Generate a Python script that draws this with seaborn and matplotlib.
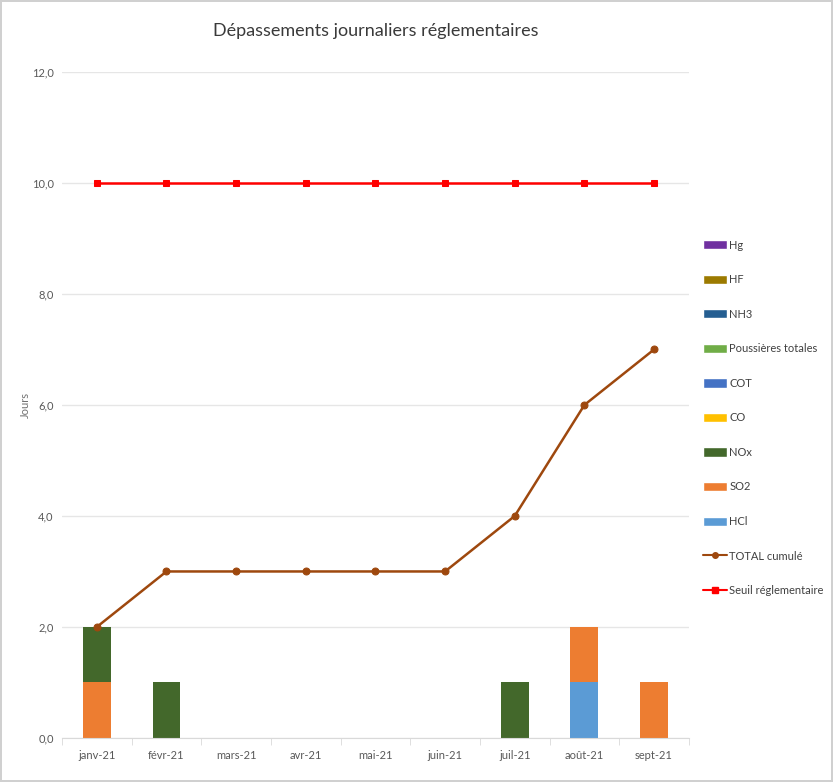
import numpy as np
import pandas as pd
import matplotlib
matplotlib.use("Agg")
import matplotlib.pyplot as plt
import seaborn as sns
from matplotlib.patches import Patch
from matplotlib.lines import Line2D

months = ["janv-21", "févr-21", "mars-21", "avr-21", "mai-21", "juin-21", "juil-21", "août-21", "sept-21"]

# stacked layers, bottom to top
hcl = [0, 0, 0, 0, 0, 0, 0, 1, 0]
so2 = [1, 0, 0, 0, 0, 0, 0, 1, 1]
nox = [1, 1, 0, 0, 0, 0, 1, 0, 0]
co = [0, 0, 0, 0, 0, 0, 0, 0, 0]
cot = [0, 0, 0, 0, 0, 0, 0, 0, 0]
poussieres = [0, 0, 0, 0, 0, 0, 0, 0, 0]
nh3 = [0, 0, 0, 0, 0, 0, 0, 0, 0]
hf = [0, 0, 0, 0, 0, 0, 0, 0, 0]
hg = [0, 0, 0, 0, 0, 0, 0, 0, 0]

total_cumule = [2, 3, 3, 3, 3, 3, 4, 6, 7]
seuil = [10, 10, 10, 10, 10, 10, 10, 10, 10]

layers = [
    ("HCl", hcl, "#5B9BD5"),
    ("SO2", so2, "#ED7D31"),
    ("NOx", nox, "#43682B"),
    ("CO", co, "#FFC000"),
    ("COT", cot, "#4472C4"),
    ("Poussières totales", poussieres, "#70AD47"),
    ("NH3", nh3, "#255E91"),
    ("HF", hf, "#9C7A00"),
    ("Hg", hg, "#7030A0"),
]

sns.set_style("white")
plt.rcParams["font.family"] = ["Lato", "DejaVu Sans"]

fig = plt.figure(figsize=(8.33, 7.82), dpi=100)
fig.patch.set_edgecolor("#D0D0D0")
fig.patch.set_linewidth(1.5)
ax = fig.add_axes([0.0744, 0.0563, 0.7526, 0.8517])

# stacked bars: draw cumulative totals from top layer down
df = pd.DataFrame({name: vals for name, vals, _ in layers}, index=months)
cum = df.cumsum(axis=1)
for name, _, color in reversed(layers):
    sns.barplot(x=months, y=cum[name].values, color=color, width=0.4,
                saturation=1, linewidth=0, ax=ax, zorder=2)

xpos = np.arange(len(months))
sns.lineplot(x=xpos, y=total_cumule, color="#9E480E", marker="o", markersize=5,
             markeredgecolor="#9E480E", linewidth=1.8, ax=ax, zorder=4)
sns.lineplot(x=xpos, y=seuil, color="#FF0000", marker="s", markersize=5,
             markeredgecolor="#FF0000", linewidth=1.8, ax=ax, zorder=4)

ax.set_xlim(-0.5, len(months) - 0.5)
ax.set_ylim(0, 12)
yt = np.arange(0, 13, 2)
ax.set_yticks(yt)
ax.set_yticklabels([f"{v:.1f}".replace(".", ",") for v in yt], fontsize=8, color="#595959")
ax.set_xticks(xpos)
ax.set_xticklabels(months, fontsize=8, color="#595959")
ax.set_xticks(np.arange(-0.5, len(months), 1), minor=True)
ax.tick_params(axis="x", which="major", length=0, pad=9)
ax.tick_params(axis="x", which="minor", length=5, color="#D9D9D9", bottom=True)
ax.tick_params(axis="y", length=0, pad=6)
ax.yaxis.grid(True, color="#E6E6E6", linewidth=1)
ax.set_axisbelow(True)
for s in ["top", "right", "left"]:
    ax.spines[s].set_visible(False)
ax.spines["bottom"].set_color("#D9D9D9")

ax.set_xlabel("")
ax.set_ylabel("Jours", fontsize=8, color="#707070")
ax.yaxis.set_label_coords(-0.05, 0.5)
ax.set_title("Dépassements journaliers réglementaires", fontsize=13,
             color="#3A3A3A", pad=26)

handles = [Patch(facecolor=c, label=n) for n, _, c in reversed(layers)]
handles.append(Line2D([0], [0], color="#9E480E", marker="o", markersize=4,
                      linewidth=1.5, label="TOTAL cumulé"))
handles.append(Line2D([0], [0], color="#FF0000", marker="s", markersize=4,
                      linewidth=1.5, label="Seuil réglementaire"))
leg = ax.legend(handles=handles, loc="upper left", bbox_to_anchor=(1.015, 0.755),
                frameon=False, fontsize=8, labelspacing=2.12, handlelength=2.2,
                handleheight=0.9, handletextpad=0.2, borderaxespad=0)
for t in leg.get_texts():
    t.set_color("#404040")

fig.savefig("out.png", dpi=100)
